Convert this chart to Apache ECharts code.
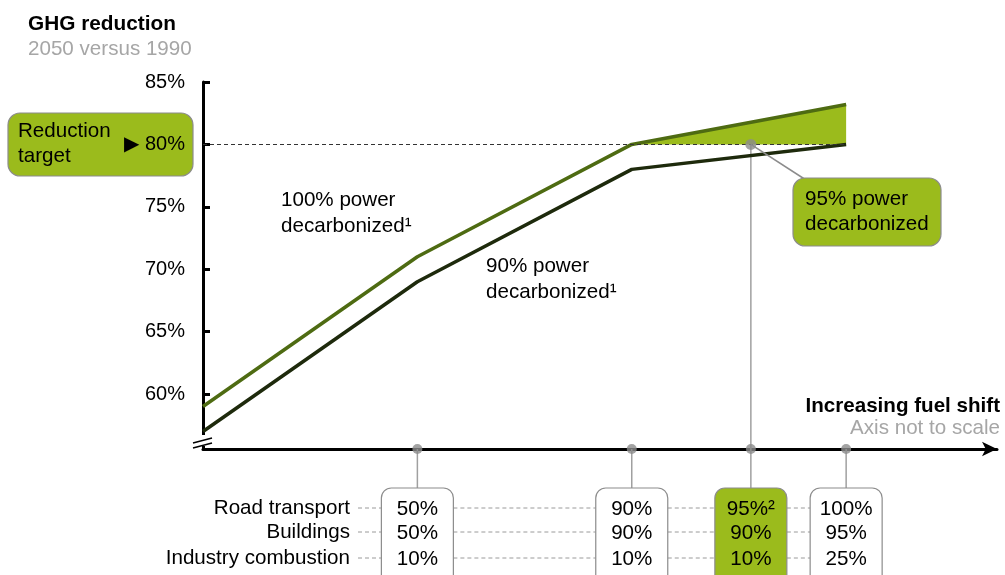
<!DOCTYPE html>
<html>
<head>
<meta charset="utf-8">
<script src="https://cdn.jsdelivr.net/npm/echarts@6.0.0/dist/echarts.min.js"></script>
<style>
html, body { margin: 0; padding: 0; background: #fff; }
#chart { width: 1005px; height: 575px; }
</style>
</head>
<body>
<div id="chart"></div>
<script>
// positions on the fuel shift axis (axis not to scale)
var linePos = [0, 27, 54, 81];
var scenarioPos = [27, 54, 69, 81];
// GHG reduction 2050 vs 1990, %
var power100 = [59, 71, 80, 83.2];
var power90 = [57, 69, 78, 80];
var targetValue = 80;
var power95Pos = 69;
var power95Value = 80;
var yTicks = [60, 65, 70, 75, 80, 85];
var yMin = 55.6, yMax = 85;

// table under the axis
var rowNames = ['Road transport', 'Buildings', 'Industry combustion'];
var roadShare = ['50%', '90%', '95%²', '100%'];
var buildingShare = ['50%', '90%', '90%', '95%'];
var industryShare = ['10%', '10%', '10%', '25%'];

var FONT = "'Liberation Sans', Arial, sans-serif";
var F = '20.6px ' + FONT;
var GREEN = '#9bbb1c';
var BORDER = '#8c8c8c';

var chart = echarts.init(document.getElementById('chart'));

var fillData = [[linePos[2], power100[2]], [linePos[3], power100[3]]];

chart.setOption({
    animation: false,
    textStyle: { fontFamily: FONT },
    title: {
        left: 23, top: 9,
        text: 'GHG reduction',
        subtext: '2050 versus 1990',
        itemGap: 4,
        textStyle: { fontSize: 20.8, fontWeight: 'bold', color: '#000', fontFamily: FONT },
        subtextStyle: { fontSize: 20.6, color: '#a6a6a6', fontFamily: FONT }
    },
    grid: { left: 203, right: 8, top: 82, bottom: 126 },
    xAxis: {
        type: 'value', min: 0, max: 100,
        axisLine: { lineStyle: { color: '#000', width: 3 }, symbol: ['none', 'arrow'], symbolSize: [11, 15] },
        axisTick: { show: false },
        axisLabel: { show: false },
        splitLine: { show: false }
    },
    yAxis: {
        type: 'value', min: yMin, max: yMax,
        axisLine: { show: true, lineStyle: { color: '#000', width: 3 } },
        axisTick: { show: true, inside: true, length: 7, customValues: yTicks, lineStyle: { width: 3, color: '#000' } },
        axisLabel: {
            customValues: yTicks, margin: 18, fontSize: 20, color: '#000', fontFamily: FONT,
            formatter: function (v) { return v === targetValue ? '▶ ' + v + '%' : v + '%'; }
        },
        splitLine: { show: false }
    },
    series: [
        {
            name: 'fill', type: 'line', z: 1, symbol: 'none', silent: true,
            data: fillData,
            lineStyle: { width: 0 },
            areaStyle: { color: GREEN, opacity: 1, origin: targetValue }
        },
        {
            name: '90% power', type: 'line', z: 3, symbol: 'none',
            data: linePos.map(function (x, i) { return [x, power90[i]]; }),
            lineStyle: { color: '#1e2a0c', width: 3.5 },
            markLine: {
                silent: true, symbol: 'none', label: { show: false },
                lineStyle: { color: '#333', width: 1, type: [4, 3] },
                data: [[{ coord: [0, targetValue] }, { coord: [linePos[3], targetValue] }]]
            }
        },
        {
            name: '100% power', type: 'line', z: 4, symbol: 'none',
            data: linePos.map(function (x, i) { return [x, power100[i]]; }),
            lineStyle: { color: '#4e6b12', width: 3.5 }
        },
        {
            name: 'dots', type: 'scatter', z: 6, clip: false, symbolSize: 10,
            itemStyle: { color: BORDER },
            data: scenarioPos.map(function (x) { return [x, yMin]; })
        },
        {
            name: '95% power', type: 'scatter', z: 6, clip: false, symbolSize: 11,
            itemStyle: { color: BORDER },
            data: [[power95Pos, power95Value]]
        }
    ]
});

function px(x, y) { return chart.convertToPixel({ gridIndex: 0 }, [x, y]); }

var g = [];
var axisY = px(0, yMin)[1];
var axisX = px(0, yMin)[0];

// y axis break
g.push({ type: 'rect', z: 100, shape: { x: axisX - 5, y: axisY - 14, width: 10, height: 11 }, style: { fill: '#fff' } });
g.push({ type: 'line', z: 101, shape: { x1: axisX - 10, y1: axisY - 6, x2: axisX + 9, y2: axisY - 11 }, style: { stroke: '#000', lineWidth: 1.5 } });
g.push({ type: 'line', z: 101, shape: { x1: axisX - 10, y1: axisY - 1, x2: axisX + 9, y2: axisY - 6 }, style: { stroke: '#000', lineWidth: 1.5 } });

// reduction target box (behind the 80% label)
g.push({ type: 'rect', z: -1, shape: { x: 8, y: 113, width: 185, height: 63, r: 12 }, style: { fill: GREEN, stroke: BORDER, lineWidth: 1.2 } });
g.push({ type: 'text', z: 5, x: 18, y: 119, style: { text: 'Reduction\ntarget', font: F, fill: '#000', lineHeight: 25 } });

// line labels
g.push({ type: 'text', z: 5, x: 281, y: 187, style: { text: '100% power\ndecarbonized¹', font: F, fill: '#000', lineHeight: 26 } });
g.push({ type: 'text', z: 5, x: 486, y: 253, style: { text: '90% power\ndecarbonized¹', font: F, fill: '#000', lineHeight: 26 } });

// axis caption
g.push({ type: 'text', z: 5, x: 1000, y: 396, style: { text: 'Increasing fuel shift', font: 'bold 20.6px ' + FONT, fill: '#000', align: 'right' } });
g.push({ type: 'text', z: 5, x: 1000, y: 418, style: { text: 'Axis not to scale', font: F, fill: '#a6a6a6', align: 'right' } });

// callout for 95% power decarbonized
var p95 = px(power95Pos, power95Value);
g.push({ type: 'line', z: 5, shape: { x1: p95[0], y1: p95[1], x2: 806, y2: 180 }, style: { stroke: BORDER, lineWidth: 1.5 } });
g.push({ type: 'rect', z: 6, shape: { x: 793, y: 178, width: 148, height: 68, r: 12 }, style: { fill: GREEN, stroke: BORDER, lineWidth: 1.2 } });
g.push({ type: 'text', z: 7, x: 805, y: 187, style: { text: '95% power\ndecarbonized', font: F, fill: '#000', lineHeight: 25 } });

// table under the axis
var boxTop = 488, boxW = 72, rowY = [508, 532, 558];
var rows = [roadShare, buildingShare, industryShare];
var centers = scenarioPos.map(function (x) { return px(x, yMin)[0]; });

rowNames.forEach(function (name, r) {
    g.push({ type: 'text', z: 5, x: 350, y: rowY[r], style: { text: name, font: F, fill: '#000', align: 'right', verticalAlign: 'middle' } });
    var prev = 358;
    centers.forEach(function (cx) {
        g.push({ type: 'line', z: 2, shape: { x1: prev, y1: rowY[r], x2: cx - boxW / 2, y2: rowY[r] }, style: { stroke: '#9a9a9a', lineWidth: 1, lineDash: [4, 3] } });
        prev = cx + boxW / 2;
    });
});

centers.forEach(function (cx, i) {
    var topY = i === 2 ? p95[1] : axisY;
    g.push({ type: 'line', z: 2, shape: { x1: cx, y1: topY, x2: cx, y2: boxTop }, style: { stroke: '#a0a0a0', lineWidth: 1.5 } });
    g.push({ type: 'rect', z: 3, shape: { x: cx - boxW / 2, y: boxTop, width: boxW, height: 110, r: 10 }, style: { fill: i === 2 ? GREEN : '#fff', stroke: BORDER, lineWidth: 1.2 } });
    rows.forEach(function (vals, r) {
        g.push({ type: 'text', z: 4, x: cx, y: rowY[r] + 1, style: { text: vals[i], font: F, fill: '#000', align: 'center', verticalAlign: 'middle' } });
    });
});

chart.setOption({ graphic: g });
</script>
</body>
</html>
